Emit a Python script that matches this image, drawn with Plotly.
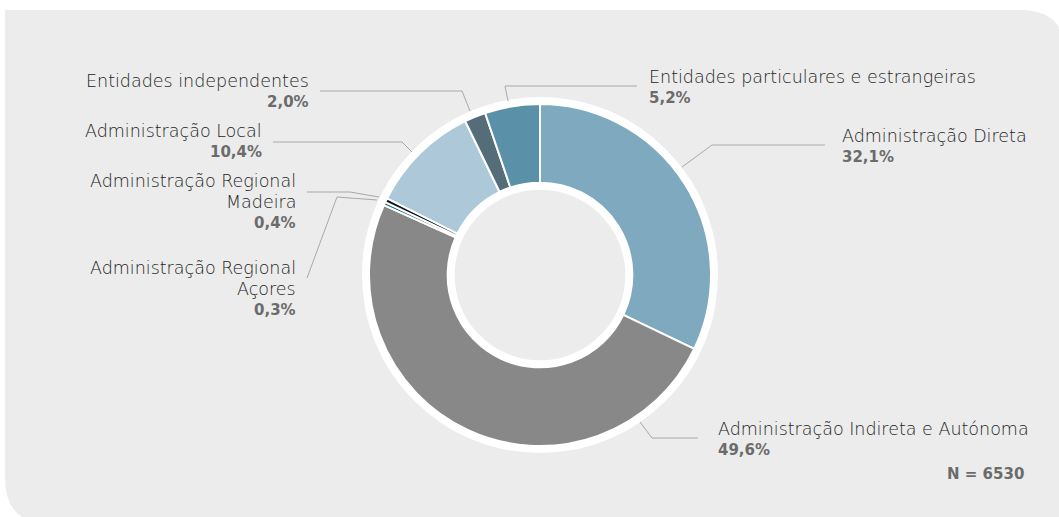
import plotly.graph_objects as go

# Distribution by type of entity
categories = [
    "Administração Direta",
    "Administração Indireta e Autónoma",
    "Administração Regional Açores",
    "Administração Regional Madeira",
    "Administração Local",
    "Entidades independentes",
    "Entidades particulares e estrangeiras",
]
shares = [32.1, 49.6, 0.3, 0.4, 10.4, 2.0, 5.2]
share_labels = ["32,1%", "49,6%", "0,3%", "0,4%", "10,4%", "2,0%", "5,2%"]
colors = ["#7ea9bf", "#888888", "#16708c", "#111111", "#adc8d9", "#546d79", "#5b90a9"]
total_n = "N = 6530"

W, H = 1059, 517
FONT = "DejaVu Sans"
NAME_COLOR = "#242424"
PCT_COLOR = "#6b6b6b"
LINE_COLOR = "#a8a8a8"

# donut geometry in pixels
CX, CY, R = 540, 275, 171
HOLE = 0.54


def px(x):
    return x / W


def py(y):
    return 1 - y / H


fig = go.Figure()

fig.add_trace(go.Pie(
    labels=categories,
    values=shares,
    sort=False,
    direction="clockwise",
    rotation=0,
    hole=HOLE,
    marker=dict(colors=colors, line=dict(color="white", width=2)),
    textinfo="none",
    hoverinfo="label+percent",
    showlegend=False,
    domain=dict(x=[px(CX - R), px(CX + R)], y=[py(CY + R), py(CY - R)]),
))

shapes = []

# background panel with rounded top-right and bottom-left corners
x0, y0, x1, y1, rc = 5, 10, 1066, 524, 46
panel = (
    f"M {px(x0)} {py(y0)} "
    f"L {px(x1 - rc)} {py(y0)} "
    f"Q {px(x1)} {py(y0)} {px(x1)} {py(y0 + rc)} "
    f"L {px(x1)} {py(y1)} "
    f"L {px(x0 + rc)} {py(y1)} "
    f"Q {px(x0)} {py(y1)} {px(x0)} {py(y1 - rc)} Z"
)
shapes.append(dict(type="path", path=panel, xref="paper", yref="paper",
                   fillcolor="#ececec", line=dict(width=0), layer="below"))

# white ring behind the donut and grey centre
ro = R + 7
shapes.append(dict(type="circle", xref="paper", yref="paper",
                   x0=px(CX - ro), x1=px(CX + ro), y0=py(CY + ro), y1=py(CY - ro),
                   fillcolor="white", line=dict(width=0), layer="below"))
ri = R * HOLE - 7
shapes.append(dict(type="circle", xref="paper", yref="paper",
                   x0=px(CX - ri), x1=px(CX + ri), y0=py(CY + ri), y1=py(CY - ri),
                   fillcolor="#ececec", line=dict(width=0), layer="below"))

# leader lines (pixel polylines)
leaders = [
    [(682, 167), (712, 145), (825, 145)],          # Direta
    [(640, 422), (652, 438), (698, 438)],          # Indireta
    [(377, 200), (337, 197), (307, 278)],          # Açores
    [(379, 197), (350, 192), (307, 192)],          # Madeira
    [(412, 152), (402, 142), (273, 142)],          # Local
    [(470, 111), (462, 91), (320, 91)],            # Independentes
    [(508, 101), (505, 86), (637, 86)],            # Particulares
]
for pts in leaders:
    path = "M " + " L ".join(f"{px(x)} {py(y)}" for x, y in pts)
    shapes.append(dict(type="path", path=path, xref="paper", yref="paper",
                       line=dict(color=LINE_COLOR, width=1)))

# label blocks: (name lines, percent index, x, y of first line, anchor)
label_blocks = [
    (["Administração Direta"], 0, 840, 136, "left"),
    (["Administração Indireta e Autónoma"], 1, 716, 429, "left"),
    (["Administração Regional", "Açores"], 2, 298, 268, "right"),
    (["Administração Regional", "Madeira"], 3, 298, 181, "right"),
    (["Administração Local"], 4, 264, 131, "right"),
    (["Entidades independentes"], 5, 311, 81, "right"),
    (["Entidades particulares e estrangeiras"], 6, 647, 77, "left"),
]
LINE_H = 21
annotations = []
for names, idx, x, y, anchor in label_blocks:
    for k, name in enumerate(names):
        annotations.append(dict(
            text=name, x=px(x), y=py(y + k * LINE_H), xref="paper", yref="paper",
            xanchor=anchor, yanchor="middle", showarrow=False,
            font=dict(family=FONT, size=17.5, weight=300, color=NAME_COLOR)))
    annotations.append(dict(
        text=f"<b>{share_labels[idx]}</b>", x=px(x), y=py(y + len(names) * LINE_H),
        xref="paper", yref="paper", xanchor=anchor, yanchor="middle", showarrow=False,
        font=dict(family=FONT, size=15, color=PCT_COLOR)))

annotations.append(dict(
    text=f"<b>{total_n}</b>", x=px(1026), y=py(474), xref="paper", yref="paper",
    xanchor="right", yanchor="middle", showarrow=False,
    font=dict(family=FONT, size=15, color=PCT_COLOR)))

fig.update_layout(
    width=W, height=H,
    margin=dict(l=0, r=0, t=0, b=0),
    paper_bgcolor="white",
    plot_bgcolor="white",
    shapes=shapes,
    annotations=annotations,
)

fig.write_html("out.html")
